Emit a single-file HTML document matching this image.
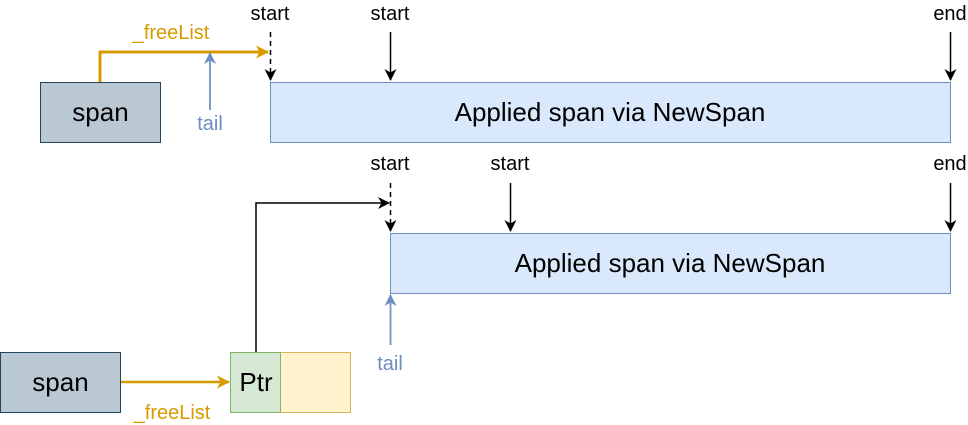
<!DOCTYPE html>
<html><head><meta charset="utf-8"><style>
html,body{margin:0;padding:0;background:#fff;width:968px;height:425px;overflow:hidden}
svg{display:block}
text{font-family:"Liberation Sans",Arial,sans-serif}
</style></head><body>
<svg width="968" height="425" viewBox="0 0 968 425" xmlns="http://www.w3.org/2000/svg">
<defs>
<marker id="ab" markerWidth="12" markerHeight="12" refX="11" refY="6" orient="auto" markerUnits="userSpaceOnUse"><path d="M0,0 L12,6 L0,12 L3.5,6 z" fill="#000"/></marker>
<marker id="ao" markerWidth="13" markerHeight="13" refX="12" refY="6.5" orient="auto" markerUnits="userSpaceOnUse"><path d="M0,0 L13,6.5 L0,13 L3.5,6.5 z" fill="#d79b00"/></marker>
<marker id="at" markerWidth="12" markerHeight="12" refX="11" refY="6" orient="auto" markerUnits="userSpaceOnUse"><path d="M0,0 L12,6 L0,12 L3.5,6 z" fill="#6c8ebf"/></marker>
</defs>
<!-- top -->
<rect x="40.5" y="82.5" width="120" height="60" fill="#bac8d3" stroke="#23445d"/>
<text x="100.5" y="121" font-size="26" text-anchor="middle">span</text>
<rect x="270.5" y="82.5" width="680" height="60" fill="#dae8fc" stroke="#6c8ebf"/>
<text x="610" y="121" font-size="26" text-anchor="middle">Applied span via NewSpan</text>
<polyline points="100,82 100,52 268,52" fill="none" stroke="#d79b00" stroke-width="3" marker-end="url(#ao)"/>
<text x="171" y="39" font-size="20" fill="#d79b00" text-anchor="middle">_freeList</text>
<line x1="210" y1="110" x2="210" y2="53" stroke="#7e9ccb" stroke-width="2" marker-end="url(#at)"/>
<text x="210" y="130" font-size="20" fill="#6c8ebf" text-anchor="middle">tail</text>
<line x1="270.5" y1="32" x2="270.5" y2="80" stroke="#000" stroke-width="1.5" stroke-dasharray="5,4" marker-end="url(#ab)"/>
<text x="270" y="20" font-size="20" text-anchor="middle">start</text>
<line x1="390.5" y1="32" x2="390.5" y2="80" stroke="#000" stroke-width="1.5" marker-end="url(#ab)"/>
<text x="390" y="20" font-size="20" text-anchor="middle">start</text>
<line x1="950.5" y1="32" x2="950.5" y2="80" stroke="#000" stroke-width="1.5" marker-end="url(#ab)"/>
<text x="950" y="20" font-size="20" text-anchor="middle">end</text>
<!-- bottom -->
<rect x="390.5" y="233.5" width="560" height="60" fill="#dae8fc" stroke="#6c8ebf"/>
<text x="670" y="272" font-size="26" text-anchor="middle">Applied span via NewSpan</text>
<text x="390" y="170" font-size="20" text-anchor="middle">start</text>
<line x1="390.5" y1="183" x2="390.5" y2="231" stroke="#000" stroke-width="1.5" stroke-dasharray="5,4" marker-end="url(#ab)"/>
<text x="510" y="170" font-size="20" text-anchor="middle">start</text>
<line x1="510.5" y1="183" x2="510.5" y2="231" stroke="#000" stroke-width="1.5" marker-end="url(#ab)"/>
<text x="950" y="170" font-size="20" text-anchor="middle">end</text>
<line x1="950.5" y1="183" x2="950.5" y2="231" stroke="#000" stroke-width="1.5" marker-end="url(#ab)"/>
<polyline points="256,352 256,203 389,203" fill="none" stroke="#000" stroke-width="1.5" marker-end="url(#ab)"/>
<line x1="390.5" y1="345" x2="390.5" y2="295" stroke="#7e9ccb" stroke-width="2" marker-end="url(#at)"/>
<text x="390" y="370" font-size="20" fill="#6c8ebf" text-anchor="middle">tail</text>
<rect x="0.5" y="352.5" width="120" height="60" fill="#bac8d3" stroke="#23445d"/>
<text x="60.5" y="391" font-size="26" text-anchor="middle">span</text>
<line x1="121" y1="382" x2="229" y2="382" stroke="#d79b00" stroke-width="2.5" marker-end="url(#ao)"/>
<text x="172" y="419" font-size="20" fill="#d79b00" text-anchor="middle">_freeList</text>
<rect x="280.5" y="352.5" width="70" height="60" fill="#fff2cc" stroke="#d6b656"/>
<rect x="230.5" y="352.5" width="50" height="60" fill="#d5e8d4" stroke="#82b366"/>
<text x="256" y="391" font-size="26" text-anchor="middle">Ptr</text>
</svg>
</body></html>
